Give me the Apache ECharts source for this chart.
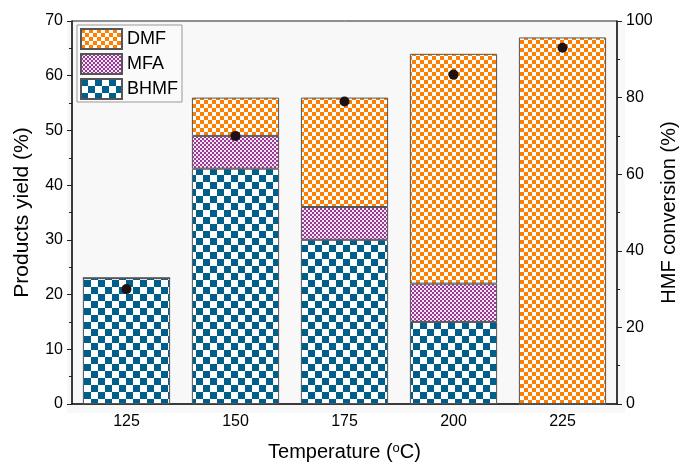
<!doctype html>
<html>
<head>
<meta charset="utf-8">
<script src="https://cdn.jsdelivr.net/npm/echarts@6/dist/echarts.min.js"></script>
<style>
  html, body { margin: 0; padding: 0; background: #fff; }
  #chart { width: 679px; height: 463px; }
</style>
</head>
<body>
<div id="chart"></div>
<script>
// data
var temperatures = ['125', '150', '175', '200', '225']
var bhmf_yield = [23, 43, 30, 15, 0]
var mfa_yield = [0, 6, 6, 7, 0]
var dmf_yield = [0, 7, 20, 42, 67]
var hmf_conversion = [30, 70, 79, 86, 93]

// checkerboard fill
function checker(size, dark, light) {
	var c = document.createElement('canvas')
	c.width = size * 2
	c.height = size * 2
	var ctx = c.getContext('2d')
	ctx.fillStyle = light
	ctx.fillRect(0, 0, size * 2, size * 2)
	ctx.fillStyle = dark
	ctx.fillRect(0, 0, size, size)
	ctx.fillRect(size, size, size, size)
	return { image: c, repeat: 'repeat' }
}

var font = 'Arial, "Liberation Sans", sans-serif'
var axis_color = '#231f20'

var fill_bhmf = checker(7, '#005f8a', '#ffffff')
var fill_mfa = checker(2, '#963c92', '#f6e2f4')
var fill_dmf = checker(4, '#ff7f00', '#ffffff')

var chart = echarts.init(document.getElementById('chart'), null, { renderer: 'canvas' })

function bar(name, data, fill) {
	return {
		name: name,
		type: 'bar',
		stack: 'yield',
		barWidth: '80%',
		data: data,
		itemStyle: { color: fill, borderColor: '#555', borderWidth: 1 },
		emphasis: { disabled: true }
	}
}

var option = {
	animation: false,
	textStyle: { fontFamily: font },
	graphic: [{
		type: 'rect',
		z: -10,
		shape: { x: 67, y: 21, width: 558, height: 392 },
		style: { fill: '#f8f8f8' },
		silent: true
	}],
	grid: {
		left: 72, right: 62, top: 21, bottom: 59,
		outerBoundsMode: 'none',
		containLabel: false,
		show: true, borderColor: axis_color, borderWidth: 1, backgroundColor: 'transparent'
	},
	legend: {
		data: ['DMF', 'MFA', 'BHMF'],
		orient: 'vertical',
		left: 77, top: 25,
		icon: 'rect',
		itemWidth: 41, itemHeight: 20, itemGap: 3,
		padding: [3, 4, 2, 3],
		borderColor: '#999', borderWidth: 1,
		backgroundColor: '#fafafa',
		textStyle: { fontSize: 18, color: '#000', fontFamily: font }
	},
	xAxis: {
		type: 'category',
		data: temperatures,
		name: '{n|Temperature (}{s|o}{n|C)}',
		nameLocation: 'middle',
		nameGap: 38,
		nameTextStyle: {
			rich: {
				n: { fontSize: 20, color: '#000', fontFamily: font },
				s: { fontSize: 13, color: '#000', fontFamily: font, verticalAlign: 'top', padding: [0, 0, 8, 0] }
			}
		},
		axisLine: { lineStyle: { color: axis_color, width: 1.5 } },
		axisTick: { alignWithLabel: true, length: 5, lineStyle: { color: axis_color } },
		axisLabel: { fontSize: 16, color: '#000', margin: 10 },
		splitLine: { show: false }
	},
	yAxis: [
		{
			type: 'value',
			min: 0, max: 70, interval: 10,
			name: 'Products yield (%)',
			nameLocation: 'middle',
			nameGap: 39,
			nameRotate: 90,
			nameTextStyle: { fontSize: 21, color: '#000' },
			axisLine: { show: true, lineStyle: { color: axis_color, width: 1.5 } },
			axisTick: { show: true, length: 5, lineStyle: { color: axis_color } },
			minorTick: { show: true, splitNumber: 2, length: 3, lineStyle: { color: axis_color } },
			axisLabel: { fontSize: 16, color: '#000', margin: 9 },
			splitLine: { show: false }
		},
		{
			type: 'value',
			min: 0, max: 100, interval: 20,
			name: 'HMF conversion (%)',
			nameLocation: 'middle',
			nameGap: 42,
			nameRotate: 90,
			nameMoveOverlap: false,
			nameTextStyle: { fontSize: 20, color: '#000' },
			axisLine: { show: true, lineStyle: { color: axis_color, width: 1.5 } },
			axisTick: { show: true, length: 5, lineStyle: { color: axis_color } },
			minorTick: { show: true, splitNumber: 2, length: 3, lineStyle: { color: axis_color } },
			axisLabel: { fontSize: 16, color: '#000', margin: 9 },
			splitLine: { show: false }
		}
	],
	series: [
		bar('BHMF', bhmf_yield, fill_bhmf),
		bar('MFA', mfa_yield, fill_mfa),
		bar('DMF', dmf_yield, fill_dmf),
		{
			name: 'HMF conversion',
			type: 'scatter',
			yAxisIndex: 1,
			data: hmf_conversion,
			symbolSize: 10,
			z: 10,
			itemStyle: { color: '#1e1212', opacity: 1 }
		}
	]
}

chart.setOption(option)
</script>
</body>
</html>
